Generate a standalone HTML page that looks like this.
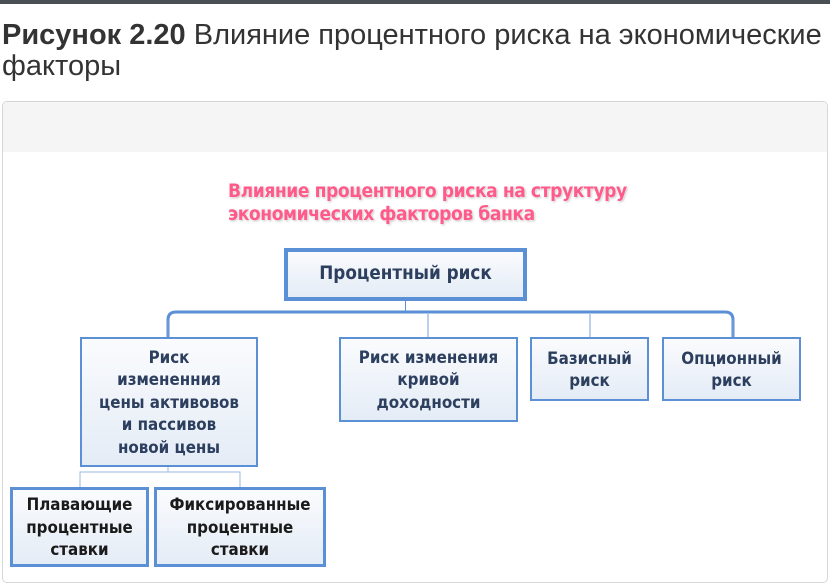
<!DOCTYPE html>
<html><head><meta charset="utf-8"><style>
body{margin:0;width:830px;height:567px;overflow:hidden;background:#fff;font-family:"Liberation Sans","DejaVu Sans",sans-serif;position:relative}
.topbar{position:absolute;left:0;top:0;width:830px;height:4px;background:#4a4e55}
.h{position:absolute;left:2px;top:20px;font-size:29px;line-height:31px;color:#333;white-space:nowrap}
.card{position:absolute;left:2px;top:101px;width:824px;height:480px;border:1px solid #d6d6d6;border-radius:5px;background:#fff;overflow:hidden}
.band{position:absolute;left:0;top:0;right:0;height:50px;background:#f5f5f5}
.pink{position:absolute;left:228px;top:180px;font-family:"DejaVu Sans Condensed","DejaVu Sans",sans-serif;font-weight:bold;font-size:19px;line-height:23px;color:#ff5a8a;text-shadow:0 0 2px #fff,1px 1px 2px #bbb;letter-spacing:-0.4px;white-space:nowrap}
.b{position:absolute;box-sizing:border-box;border:2px solid #5b8fd6;background:linear-gradient(#fafbfd,#e4ecf6);display:flex;align-items:center;justify-content:center;text-align:center;font-family:"DejaVu Sans Condensed","DejaVu Sans",sans-serif;font-weight:bold;font-size:16.8px;line-height:22.5px;color:#1a1a1a;white-space:nowrap}
.l{position:absolute;background:#5b8fd6}
</style></head><body>
<div class="topbar"></div>
<div class="h"><b>Рисунок 2.20</b> Влияние процентного риска на экономические<br>факторы</div>
<div class="card"><div class="band"></div></div>
<div class="pink">Влияние процентного риска на структуру<br>экономических факторов банка</div>
<div class="b" style="left:284px;top:248px;width:243px;height:53px;border-width:4px;color:#2d3f5e;font-size:18.7px">Процентный риск</div>
<div class="l" style="left:405px;top:300px;width:1px;height:12px"></div>
<svg style="position:absolute;left:0;top:0" width="830" height="567">
<path d="M168 337 V320 Q168 312 176 312 H725 Q733 312 733 320 V337" fill="none" stroke="#5b8fd6" stroke-width="3"/>
<path d="M168 320 V337 M428 314 V337 M590 314 V337 M733 320 V337" stroke="#7aa2dc" stroke-width="1" fill="none"/>
<path d="M168 466 V472 M80 487 V472 H240 V487" stroke="#9bb7e0" stroke-width="1" fill="none"/>
</svg>
<div class="b" style="left:80px;top:337px;width:178px;height:130px;color:#2d3f5e">Риск<br>измененния<br>цены активовов<br>и пассивов<br>новой цены</div>
<div class="b" style="left:339px;top:337px;width:179px;height:85px;color:#2d3f5e">Риск изменения<br>кривой<br>доходности</div>
<div class="b" style="left:530px;top:337px;width:119px;height:64px;color:#2d3f5e">Базисный<br>риск</div>
<div class="b" style="left:662px;top:337px;width:139px;height:64px;color:#2d3f5e">Опционный<br>риск</div>
<div class="b" style="left:10px;top:487px;width:139px;height:80px;border-width:3px">Плавающие<br>процентные<br>ставки</div>
<div class="b" style="left:154px;top:487px;width:172px;height:80px;border-width:3px">Фиксированные<br>процентные<br>ставки</div>
</body></html>
